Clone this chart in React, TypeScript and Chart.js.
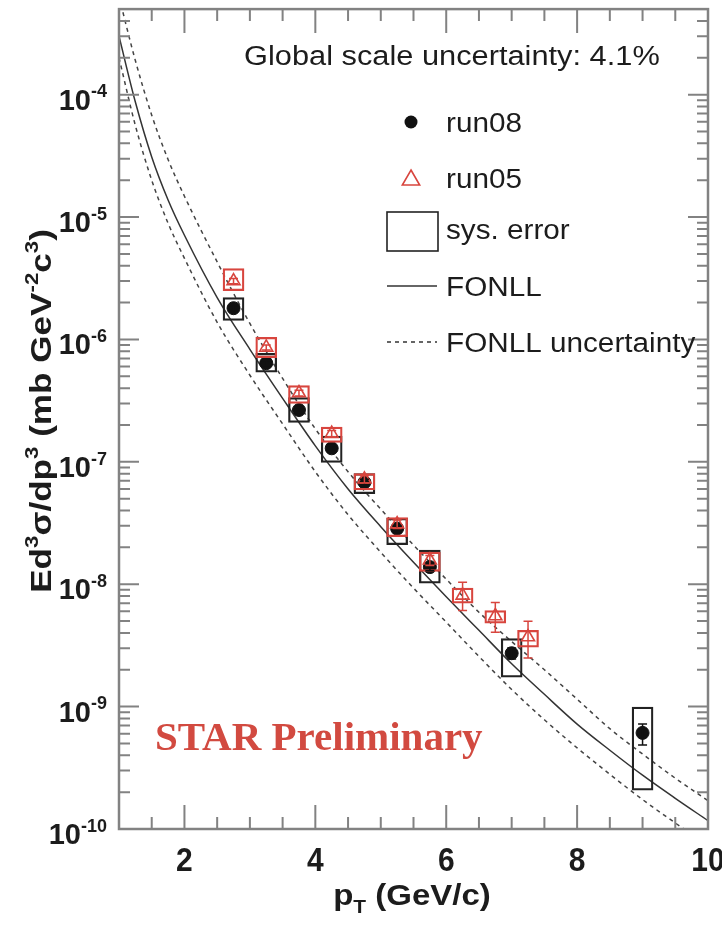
import { useEffect, useRef } from "react";
import { Chart, registerables } from "chart.js";

Chart.register(...registerables);

// FONLL prediction sampled on a pT grid (GeV/c)
const fonllPt = [1, 1.25, 1.5, 1.75, 2, 2.5, 3, 3.5, 4, 4.5, 5, 5.5, 6, 6.5, 7, 7.5, 8, 8.5, 9, 9.5, 10];
const fonllCentral = [3.0e-4, 8.7e-5, 3.1e-5, 1.38e-5, 7.1e-6, 2.2e-6, 8.3e-7, 3.3e-7, 1.35e-7, 6.0e-8, 2.95e-8, 1.51e-8, 7.9e-9, 4.2e-9, 2.24e-9, 1.26e-9, 7.2e-10, 4.4e-10, 2.75e-10, 1.78e-10, 1.17e-10];
const fonllUpper = [6.3e-4, 1.9e-4, 6.8e-5, 2.95e-5, 1.48e-5, 4.3e-6, 1.35e-6, 4.8e-7, 1.86e-7, 8.3e-8, 4.1e-8, 2.09e-8, 1.1e-8, 5.9e-9, 3.4e-9, 2.0e-9, 1.15e-9, 6.6e-10, 4.1e-10, 2.6e-10, 1.7e-10];
const fonllLower = [2.0e-4, 5.6e-5, 2.0e-5, 8.9e-6, 4.6e-6, 1.38e-6, 5.1e-7, 2.04e-7, 8.3e-8, 3.7e-8, 1.82e-8, 9.3e-9, 4.9e-9, 2.57e-9, 1.38e-9, 7.8e-10, 4.6e-10, 2.8e-10, 1.74e-10, 1.12e-10, 7.4e-11];

// run08 measurement
const run08Pt = [2.75, 3.25, 3.75, 4.25, 4.75, 5.25, 5.75, 7.0, 9.0];
const run08Val = [1.8e-6, 6.4e-7, 2.65e-7, 1.29e-7, 6.8e-8, 2.85e-8, 1.38e-8, 2.73e-9, 6.1e-10];
const run08StatLo = [1.72e-6, 6.1e-7, 2.52e-7, 1.22e-7, 6.4e-8, 2.68e-8, 1.29e-8, 2.45e-9, 4.85e-10];
const run08StatHi = [1.88e-6, 6.7e-7, 2.78e-7, 1.36e-7, 7.2e-8, 3.02e-8, 1.47e-8, 3.01e-9, 7.2e-10];
const run08SysLo = [1.43e-6, 5.4e-7, 2.1e-7, 9.9e-8, 5.5e-8, 2.1e-8, 1.02e-8, 1.74e-9, 2.08e-10];
const run08SysHi = [2.2e-6, 7.7e-7, 3.35e-7, 1.62e-7, 8.0e-8, 3.45e-8, 1.9e-8, 3.6e-9, 9.9e-10];

// run05 measurement
const run05Pt = [2.75, 3.25, 3.75, 4.25, 4.75, 5.25, 5.75, 6.25, 6.75, 7.25];
const run05Val = [3.0e-6, 8.6e-7, 3.65e-7, 1.7e-7, 7.2e-8, 3.1e-8, 1.57e-8, 8.1e-9, 5.5e-9, 3.7e-9];
const run05StatLo = [2.85e-6, 8.2e-7, 3.45e-7, 1.6e-7, 6.7e-8, 2.85e-8, 1.42e-8, 6.1e-9, 4.06e-9, 2.49e-9];
const run05StatHi = [3.15e-6, 9.0e-7, 3.85e-7, 1.8e-7, 7.7e-8, 3.35e-8, 1.72e-8, 1.04e-8, 7.1e-9, 4.99e-9];
const run05SysLo = [2.5e-6, 7.1e-7, 3.0e-7, 1.44e-7, 5.9e-8, 2.45e-8, 1.27e-8, 7.0e-9, 4.8e-9, 3.06e-9];
const run05SysHi = [3.8e-6, 1.04e-6, 4.2e-7, 1.92e-7, 8.0e-8, 3.5e-8, 1.83e-8, 9.3e-9, 6.1e-9, 4.2e-9];

// axis ticks
const xLabelValues = [2, 4, 6, 8, 10];
const yDecades = [-10, -9, -8, -7, -6, -5, -4];

const SANS = "'Liberation Sans', Arial, Helvetica, sans-serif";
const SERIF = "'Liberation Serif', 'Times New Roman', serif";
const INK = "#1c1c1c";
const RED = "#d8453e";
const FRAME = "#828282";

type Seg = { t: string; k?: "sup" | "sub" };
type TextOpts = {
  size: number;
  weight?: string;
  family?: string;
  color?: string;
  align?: "left" | "center" | "right";
  rotate?: boolean;
  along?: number;
  across?: number;
};

// draws text with super/subscript segments; "along"/"across" stretch the glyphs
function drawRich(ctx: CanvasRenderingContext2D, segs: Seg[], x: number, y: number, o: TextOpts) {
  const family = o.family ?? SANS;
  const weight = o.weight ?? "normal";
  const small = Math.round(o.size * 0.62);
  const fontFor = (s: Seg) => `${weight} ${s.k ? small : o.size}px ${family}`;
  let total = 0;
  const widths = segs.map((s) => {
    ctx.font = fontFor(s);
    const w = ctx.measureText(s.t).width;
    total += w;
    return w;
  });
  ctx.save();
  ctx.translate(x, y);
  if (o.rotate) ctx.rotate(-Math.PI / 2);
  ctx.scale(o.along ?? 1, o.across ?? 1);
  ctx.fillStyle = o.color ?? INK;
  ctx.textBaseline = "alphabetic";
  ctx.textAlign = "left";
  let cx = o.align === "right" ? -total : o.align === "center" ? -total / 2 : 0;
  segs.forEach((s, i) => {
    ctx.font = fontFor(s);
    const dy = s.k === "sup" ? -o.size * 0.42 : s.k === "sub" ? o.size * 0.28 : 0;
    ctx.fillText(s.t, cx, dy);
    cx += widths[i];
  });
  ctx.restore();
}

const pts = (xs: number[], ys: number[]) => xs.map((x, i) => ({ x, y: ys[i] }));
const boxes = (xs: number[], lo: number[], hi: number[]) => xs.map((x, i) => ({ x, y: [lo[i], hi[i]] }));

// statistical error bars with caps
const errorBarPlugin = {
  id: "statErrors",
  afterDatasetsDraw(chart: any) {
    const { ctx, chartArea: a, scales } = chart;
    const xs = scales.x;
    const ys = scales.y;
    const draw = (pt: number[], lo: number[], hi: number[], color: string) => {
      ctx.strokeStyle = color;
      ctx.lineWidth = 1.5;
      ctx.beginPath();
      pt.forEach((p, i) => {
        const px = xs.getPixelForValue(p);
        const y0 = ys.getPixelForValue(lo[i]);
        const y1 = ys.getPixelForValue(hi[i]);
        ctx.moveTo(px, y0);
        ctx.lineTo(px, y1);
        ctx.moveTo(px - 4.5, y0);
        ctx.lineTo(px + 4.5, y0);
        ctx.moveTo(px - 4.5, y1);
        ctx.lineTo(px + 4.5, y1);
      });
      ctx.stroke();
    };
    ctx.save();
    ctx.beginPath();
    ctx.rect(a.left, a.top, a.right - a.left, a.bottom - a.top);
    ctx.clip();
    draw(run08Pt, run08StatLo, run08StatHi, "#111");
    draw(run05Pt, run05StatLo, run05StatHi, RED);
    ctx.restore();
  },
};

// frame, inward ticks, labels, legend and annotations
const framePlugin = {
  id: "frameAndText",
  afterDraw(chart: any) {
    const { ctx, chartArea: a, scales } = chart;
    const xs = scales.x;
    const ys = scales.y;
    ctx.save();
    ctx.strokeStyle = FRAME;
    ctx.lineWidth = 2;
    ctx.beginPath();
    for (let k = 3; k < 20; k++) {
      const v = k / 2;
      const px = xs.getPixelForValue(v);
      const len = v % 2 === 0 ? 24 : 12;
      ctx.moveTo(px, a.bottom);
      ctx.lineTo(px, a.bottom - len);
      ctx.moveTo(px, a.top);
      ctx.lineTo(px, a.top + len);
    }
    for (let d = -10; d <= -4; d++) {
      for (let m = 1; m <= 9; m++) {
        const v = m * Math.pow(10, d);
        if (v > ys.max * 0.999) continue;
        const py = ys.getPixelForValue(v);
        const len = m === 1 ? 20 : 11;
        ctx.moveTo(a.left, py);
        ctx.lineTo(a.left + len, py);
        ctx.moveTo(a.right, py);
        ctx.lineTo(a.right - len, py);
      }
    }
    ctx.stroke();
    ctx.lineWidth = 2.5;
    ctx.strokeRect(a.left, a.top, a.right - a.left, a.bottom - a.top);
    ctx.restore();

    // y tick labels
    yDecades.forEach((d) => {
      const py = ys.getPixelForValue(Math.pow(10, d));
      drawRich(ctx, [{ t: "10" }, { t: String(d), k: "sup" }], a.left - 12, py + 15, {
        size: 29,
        weight: "bold",
        align: "right",
      });
    });
    // x tick labels
    xLabelValues.forEach((v) => {
      const px = xs.getPixelForValue(v);
      drawRich(ctx, [{ t: String(v) }], px, a.bottom + 42, {
        size: 30,
        weight: "bold",
        align: "center",
        across: 1.12,
      });
    });
    // axis titles
    drawRich(ctx, [{ t: "p" }, { t: "T", k: "sub" }, { t: " (GeV/c)" }], 412, 905, {
      size: 30,
      weight: "bold",
      align: "center",
      along: 1.1,
    });
    drawRich(
      ctx,
      [
        { t: "Ed" },
        { t: "3", k: "sup" },
        { t: "σ/dp" },
        { t: "3", k: "sup" },
        { t: " (mb GeV" },
        { t: "-2", k: "sup" },
        { t: "c" },
        { t: "3", k: "sup" },
        { t: ")" },
      ],
      51,
      411,
      { size: 30, weight: "bold", align: "center", rotate: true, along: 1.17 }
    );

    // global scale note
    drawRich(ctx, [{ t: "Global scale uncertainty: 4.1%" }], 244, 65, { size: 27, along: 1.14 });

    // legend
    const lx = 411;
    const tx = 446;
    const legendText = (s: string, y: number) => drawRich(ctx, [{ t: s }], tx, y, { size: 27, along: 1.1 });
    ctx.save();
    ctx.fillStyle = "#111";
    ctx.beginPath();
    ctx.arc(lx, 122, 6.5, 0, Math.PI * 2);
    ctx.fill();
    legendText("run08", 132);

    ctx.strokeStyle = RED;
    ctx.lineWidth = 1.6;
    const r = 10;
    ctx.beginPath();
    ctx.moveTo(lx, 180 - r);
    ctx.lineTo(lx + r * Math.sin((2 * Math.PI) / 3), 180 + r / 2);
    ctx.lineTo(lx - r * Math.sin((2 * Math.PI) / 3), 180 + r / 2);
    ctx.closePath();
    ctx.stroke();
    legendText("run05", 188);

    ctx.strokeStyle = "#222";
    ctx.lineWidth = 1.6;
    ctx.strokeRect(387, 212, 51, 39);
    legendText("sys. error", 239);

    ctx.strokeStyle = "#333";
    ctx.lineWidth = 1.5;
    ctx.beginPath();
    ctx.moveTo(387, 286);
    ctx.lineTo(437, 286);
    ctx.stroke();
    legendText("FONLL", 296);

    ctx.setLineDash([4, 4]);
    ctx.beginPath();
    ctx.moveTo(387, 342);
    ctx.lineTo(437, 342);
    ctx.stroke();
    ctx.setLineDash([]);
    legendText("FONLL uncertainty", 352);
    ctx.restore();

    drawRich(ctx, [{ t: "STAR Preliminary" }], 155, 750, {
      size: 40,
      weight: "bold",
      family: SERIF,
      color: "#d24a40",
      along: 1.025,
    });
  },
};

export default function App() {
  const ref = useRef<HTMLCanvasElement | null>(null);

  useEffect(() => {
    if (!ref.current) return;
    const chart = new Chart(ref.current, {
      type: "scatter",
      data: {
        datasets: [
          {
            type: "scatter",
            label: "run05",
            data: pts(run05Pt, run05Val),
            pointStyle: "triangle",
            pointRadius: 7.5,
            backgroundColor: "rgba(0,0,0,0)",
            borderColor: RED,
            borderWidth: 1.6,
            order: 1,
          },
          {
            type: "bar",
            label: "run05 sys. error",
            data: boxes(run05Pt, run05SysLo, run05SysHi) as any,
            backgroundColor: "rgba(0,0,0,0)",
            borderColor: RED,
            borderWidth: 1.6,
            borderSkipped: false,
            grouped: false,
            barThickness: 21,
            order: 2,
          },
          {
            type: "scatter",
            label: "run08",
            data: pts(run08Pt, run08Val),
            pointStyle: "circle",
            pointRadius: 6.5,
            backgroundColor: "#111",
            borderColor: "#111",
            borderWidth: 1,
            order: 3,
          },
          {
            type: "bar",
            label: "run08 sys. error",
            data: boxes(run08Pt, run08SysLo, run08SysHi) as any,
            backgroundColor: "rgba(0,0,0,0)",
            borderColor: "#222",
            borderWidth: 1.6,
            borderSkipped: false,
            grouped: false,
            barThickness: 21,
            order: 4,
          },
          {
            type: "line",
            label: "FONLL",
            data: pts(fonllPt, fonllCentral),
            borderColor: "#333",
            borderWidth: 1.5,
            pointRadius: 0,
            cubicInterpolationMode: "monotone",
            order: 5,
          },
          {
            type: "line",
            label: "FONLL upper",
            data: pts(fonllPt, fonllUpper),
            borderColor: "#444",
            borderWidth: 1.5,
            borderDash: [4, 4],
            pointRadius: 0,
            cubicInterpolationMode: "monotone",
            order: 6,
          },
          {
            type: "line",
            label: "FONLL lower",
            data: pts(fonllPt, fonllLower),
            borderColor: "#444",
            borderWidth: 1.5,
            borderDash: [4, 4],
            pointRadius: 0,
            cubicInterpolationMode: "monotone",
            order: 7,
          },
        ] as any,
      },
      options: {
        animation: false,
        responsive: true,
        maintainAspectRatio: false,
        layout: { padding: { left: 0, right: 14, top: 8, bottom: 0 } },
        plugins: { legend: { display: false }, tooltip: { enabled: false } },
        scales: {
          x: {
            type: "linear",
            min: 1,
            max: 10,
            offset: false,
            grid: { display: false },
            border: { display: false },
            ticks: { display: false },
            afterFit: (s: any) => {
              s.height = 96;
            },
          },
          y: {
            type: "logarithmic",
            min: 1e-10,
            max: 5e-4,
            grid: { display: false },
            border: { display: false },
            ticks: { display: false },
            afterFit: (s: any) => {
              s.width = 119;
            },
          },
        },
      } as any,
      plugins: [errorBarPlugin, framePlugin],
    });
    return () => chart.destroy();
  }, []);

  return (
    <div style={{ position: "fixed", left: 0, top: 0, width: 722, height: 925, background: "#fff" }}>
      <canvas ref={ref} />
    </div>
  );
}
